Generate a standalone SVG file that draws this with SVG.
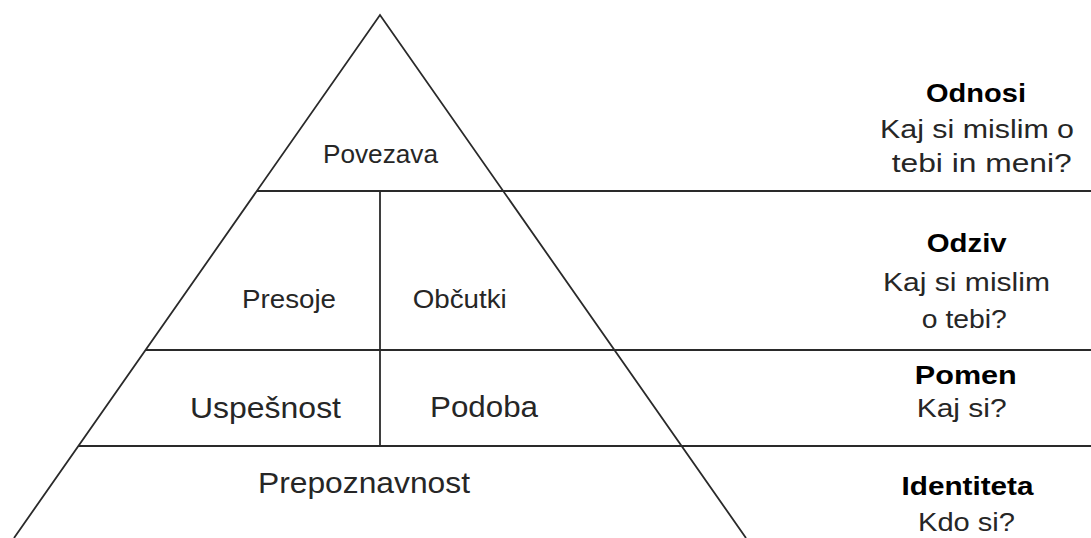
<svg xmlns="http://www.w3.org/2000/svg" width="1091" height="538" viewBox="0 0 1091 538">
<style>
.ln{fill:none;stroke:#2a2a2a;stroke-width:1.8}
.t{font-family:"Liberation Sans",Arial,sans-serif;fill:#262626;text-anchor:middle}
.b{font-weight:bold;fill:#000}
</style>
<rect width="1091" height="538" fill="#fff"/>
<g id="connectors">
<polyline class="ln" points="14,538 380,15 746,538"/>
<line class="ln" x1="257" y1="191" x2="1091" y2="191"/>
<line class="ln" x1="146" y1="350" x2="1091" y2="350"/>
<line class="ln" x1="78" y1="446" x2="1091" y2="446"/>
<line class="ln" x1="380" y1="191" x2="380" y2="446"/>
</g>
<g id="povezava"><text class="t" x="380.5" y="163" font-size="25" textLength="115" lengthAdjust="spacingAndGlyphs">Povezava</text></g>
<g id="presoje"><text class="t" x="289" y="308" font-size="25" textLength="94" lengthAdjust="spacingAndGlyphs">Presoje</text></g>
<g id="obcutki"><text class="t" x="459.7" y="308" font-size="25" textLength="94" lengthAdjust="spacingAndGlyphs">Občutki</text></g>
<g id="uspesnost"><text class="t" x="265.5" y="418" font-size="30" textLength="151" lengthAdjust="spacingAndGlyphs">Uspešnost</text></g>
<g id="podoba"><text class="t" x="484" y="417" font-size="30" textLength="108" lengthAdjust="spacingAndGlyphs">Podoba</text></g>
<g id="prepoznavnost"><text class="t" x="364" y="493" font-size="29" textLength="212" lengthAdjust="spacingAndGlyphs">Prepoznavnost</text></g>
<g id="odnosi">
<text class="t b" x="976" y="102" font-size="26" textLength="100" lengthAdjust="spacingAndGlyphs">Odnosi</text>
<text class="t" x="977" y="138" font-size="26" textLength="194" lengthAdjust="spacingAndGlyphs">Kaj si mislim o</text>
<text class="t" x="981.7" y="172" font-size="26" textLength="180" lengthAdjust="spacingAndGlyphs">tebi in meni?</text>
</g>
<g id="odziv">
<text class="t b" x="966.7" y="252" font-size="26" textLength="80" lengthAdjust="spacingAndGlyphs">Odziv</text>
<text class="t" x="966.5" y="290.5" font-size="26" textLength="167" lengthAdjust="spacingAndGlyphs">Kaj si mislim</text>
<text class="t" x="964.3" y="328" font-size="26" textLength="85" lengthAdjust="spacingAndGlyphs">o tebi?</text>
</g>
<g id="pomen">
<text class="t b" x="965.8" y="383.5" font-size="26" textLength="102" lengthAdjust="spacingAndGlyphs">Pomen</text>
<text class="t" x="961.7" y="417" font-size="26" textLength="90" lengthAdjust="spacingAndGlyphs">Kaj si?</text>
</g>
<g id="identiteta">
<text class="t b" x="967.5" y="495" font-size="26" textLength="132" lengthAdjust="spacingAndGlyphs">Identiteta</text>
<text class="t" x="966.5" y="531" font-size="26" textLength="97" lengthAdjust="spacingAndGlyphs">Kdo si?</text>
</g>
</svg>
